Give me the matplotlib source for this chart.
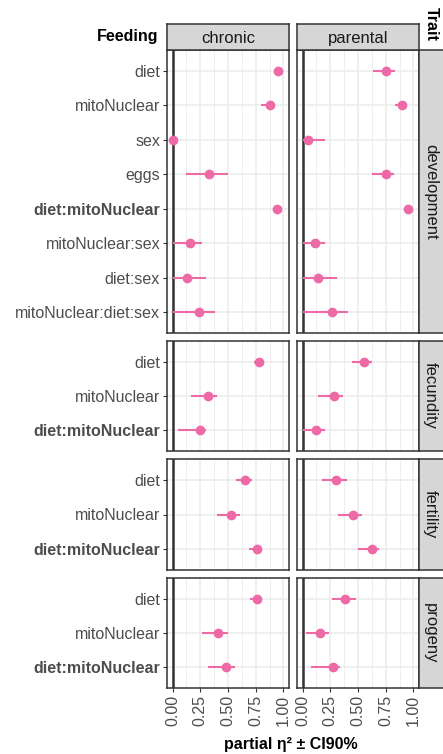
import matplotlib.pyplot as plt
import numpy as np

plt.rcParams['font.family'] = ['Liberation Sans', 'DejaVu Sans']

# effect terms per trait (top to bottom)
dev_terms = ['diet', 'mitoNuclear', 'sex', 'eggs', 'diet:mitoNuclear',
             'mitoNuclear:sex', 'diet:sex', 'mitoNuclear:diet:sex']
short_terms = ['diet', 'mitoNuclear', 'diet:mitoNuclear']

traits = ['development', 'fecundity', 'fertility', 'progeny']
feeding = ['chronic', 'parental']

# partial eta^2 estimates and 90% CI, [trait][feeding]
est = {
    'development': {'chronic':  [0.95, 0.875, 0.0, 0.33, 0.945, 0.16, 0.13, 0.24],
                    'parental': [0.755, 0.895, 0.045, 0.75, 0.95, 0.11, 0.14, 0.265]},
    'fecundity':   {'chronic':  [0.78, 0.32, 0.245],
                    'parental': [0.55, 0.28, 0.12]},
    'fertility':   {'chronic':  [0.655, 0.525, 0.765],
                    'parental': [0.30, 0.455, 0.625]},
    'progeny':     {'chronic':  [0.76, 0.41, 0.485],
                    'parental': [0.385, 0.16, 0.275]},
}
lo = {
    'development': {'chronic':  [0.94, 0.80, 0.0, 0.125, 0.94, 0.0, 0.0, 0.0],
                    'parental': [0.635, 0.835, 0.0, 0.625, 0.945, 0.0, 0.0, 0.0]},
    'fecundity':   {'chronic':  [0.735, 0.17, 0.05],
                    'parental': [0.45, 0.135, 0.0]},
    'fertility':   {'chronic':  [0.57, 0.405, 0.69],
                    'parental': [0.175, 0.32, 0.50]},
    'progeny':     {'chronic':  [0.70, 0.265, 0.32],
                    'parental': [0.265, 0.03, 0.08]},
}
hi = {
    'development': {'chronic':  [0.96, 0.90, 0.005, 0.50, 0.95, 0.27, 0.30, 0.38],
                    'parental': [0.835, 0.91, 0.20, 0.825, 0.955, 0.20, 0.31, 0.41]},
    'fecundity':   {'chronic':  [0.80, 0.405, 0.305],
                    'parental': [0.63, 0.365, 0.205]},
    'fertility':   {'chronic':  [0.72, 0.61, 0.80],
                    'parental': [0.40, 0.54, 0.69]},
    'progeny':     {'chronic':  [0.80, 0.50, 0.56],
                    'parental': [0.485, 0.24, 0.34]},
}

W, H = 443, 754
fig = plt.figure(figsize=(W / 100, H / 100), dpi=100)

pink = '#EE6AA7'
border = '#333333'
grid = '#EBEBEB'
txt = '#4D4D4D'
strip = '#D6D6D6'

col_x = [(167, 289), (297, 419)]
row_y = [(50, 333), (341, 451), (459, 570), (578, 688)]


def px_axes(x0, y0, x1, y1):
    return fig.add_axes([x0 / W, 1 - y1 / H, (x1 - x0) / W, (y1 - y0) / H])


for r, trait in enumerate(traits):
    terms = dev_terms if trait == 'development' else short_terms
    n = len(terms)
    ypos = np.arange(n)[::-1]
    for c, feed in enumerate(feeding):
        ax = px_axes(col_x[c][0], row_y[r][0], col_x[c][1], row_y[r][1])
        ax.set_xlim(-0.05, 1.05)
        ax.set_ylim(-0.6, n - 0.4)
        ax.set_xticks([0, 0.25, 0.5, 0.75, 1.0])
        ax.set_xticks([0.125, 0.375, 0.625, 0.875], minor=True)
        ax.set_yticks(ypos)
        ax.grid(True, which='major', color=grid, lw=1.1)
        ax.grid(True, which='minor', axis='x', color=grid, lw=0.6)
        ax.set_axisbelow(True)
        ax.axvline(0, color=border, lw=1.8, zorder=2)
        ax.hlines(ypos, lo[trait][feed], hi[trait][feed], color=pink, lw=1.5, zorder=3)
        ax.plot(est[trait][feed], ypos, 'o', color=pink, ms=6, zorder=4)
        for s in ax.spines.values():
            s.set_color(border)
            s.set_linewidth(1.1)
        ax.tick_params(axis='both', which='both', color=border, length=3,
                       width=0.8, labelsize=11.5, labelcolor=txt, pad=2)
        ax.tick_params(axis='x', which='minor', length=0)
        if c == 0:
            ax.set_yticklabels(terms)
            for lab in ax.get_yticklabels():
                if lab.get_text() == 'diet:mitoNuclear':
                    lab.set_fontweight('bold')
        else:
            ax.set_yticklabels([])
            ax.tick_params(axis='y', length=0)
        if r == len(traits) - 1:
            ax.set_xticklabels(['0.00', '0.25', '0.50', '0.75', '1.00'], rotation=90)
        else:
            ax.set_xticklabels([])
            ax.tick_params(axis='x', length=0)

    # right strip
    sax = px_axes(419, row_y[r][0], 446, row_y[r][1])
    sax.set_facecolor(strip)
    sax.set_xticks([])
    sax.set_yticks([])
    for s in sax.spines.values():
        s.set_color(border)
        s.set_linewidth(1.1)
    sax.text(0.42, 0.5, trait, rotation=-90, ha='center', va='center',
             fontsize=12, color='#1A1A1A', transform=sax.transAxes)

# top strips
for c, feed in enumerate(feeding):
    tax = px_axes(col_x[c][0], 24, col_x[c][1], 50)
    tax.set_facecolor(strip)
    tax.set_xticks([])
    tax.set_yticks([])
    for s in tax.spines.values():
        s.set_color(border)
        s.set_linewidth(1.1)
    tax.text(0.5, 0.45, feed, ha='center', va='center', fontsize=12,
             color='#1A1A1A', transform=tax.transAxes)

fig.text(158 / W, 1 - 37 / H, 'Feeding', ha='right', va='center',
         fontsize=11.5, fontweight='bold', color='black')
fig.text(431 / W, 1 - 24 / H, 'Trait', rotation=-90, ha='center', va='center',
         fontsize=11.5, fontweight='bold', color='black')
fig.text(291 / W, 1 - 745 / H, 'partial η² ± CI90%', ha='center', va='center',
         fontsize=11.5, fontweight='bold', color='black')

fig.savefig('out.png', dpi=100)
